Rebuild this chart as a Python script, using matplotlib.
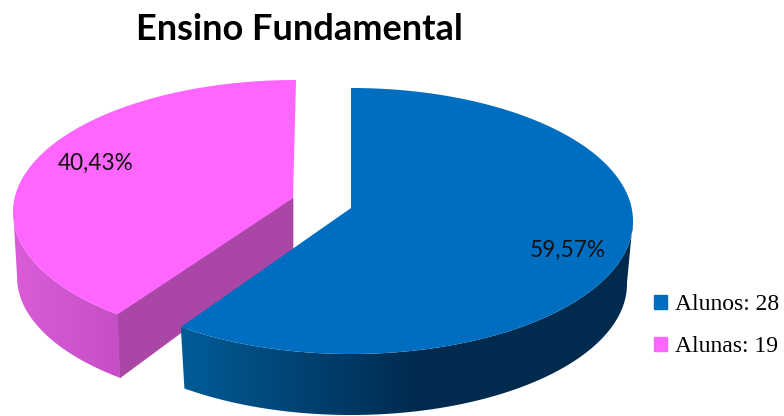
import numpy as np
import matplotlib
matplotlib.use('Agg')
import matplotlib.pyplot as plt
from matplotlib.patches import Patch,Polygon

# data
labels=['Alunos','Alunas']
counts=[28,19]
title='Ensino Fundamental'

# colours
top_colors=['#006EC0','#FF66FF']
cut_color='#AA46A6'
wall_from=[np.array([0,92,152])/255,np.array([218,92,218])/255]
wall_to=[np.array([0,42,78])/255,np.array([198,78,198])/255]
wall_span=[(181,420),(13,119)]

# geometry of each slice in picture pixels (the pie is faked 3D)
top_ell=[(351,221,282,133),(296,212,283,132)]
bot_ell=[(351,284,276,131),(296,277,279,130)]
apex=[(351,208),(293,198)]
apex_low=(293,250)
skew=[2.85,5.0]

fig=plt.figure(figsize=(7.84,4.16),dpi=100)
ax=fig.add_axes([0,0,1,1])
ax.axis('off')

shares=np.array(counts)/sum(counts)
edges=np.concatenate(([0],np.cumsum(shares)*360))

def warp(t,k):
    return t+k*np.sin(np.radians(2*t))

def pt(ell,phi):
    cx,cy,a,b=ell
    r=np.radians(phi)
    return cx+a*np.sin(r),cy-b*np.cos(r)

# pink first so the blue slice sits on top of its cut face
for i in [1,0]:
    z=1 if i==1 else 4
    th=warp(np.linspace(edges[i],edges[i+1],241),skew[i])
    x,y=pt(top_ell[i],th)
    xb,yb=pt(bot_ell[i],th)
    if i==1:
        ax.fill([apex[i][0],x[0],xb[0],apex_low[0]],[apex[i][1],y[0],yb[0],apex_low[1]],color=cut_color,lw=0.5,zorder=z)
    # outer wall, only the front half can be seen, gradient clipped to its outline
    front=np.cos(np.radians(th))<=0.02
    wall=Polygon(np.c_[np.r_[x[front],xb[front][::-1]],np.r_[y[front],yb[front][::-1]]],transform=ax.transData,fc='none',lw=0)
    ax.add_patch(wall)
    f=np.clip((np.arange(784)+0.5-wall_span[i][0])/(wall_span[i][1]-wall_span[i][0]),0,1)[None,:,None]
    grad=wall_from[i][None,None,:]*(1-f)+wall_to[i][None,None,:]*f
    im=ax.imshow(grad,extent=(0,784,416,0),aspect='auto',zorder=z,interpolation='bilinear')
    im.set_clip_path(wall)
    ax.fill(np.r_[apex[i][0],x],np.r_[apex[i][1],y],color=top_colors[i],lw=0,zorder=z+1)

ax.set_xlim(0,784)
ax.set_ylim(416,0)

# labels
for i,(lx,ly) in enumerate([(568,250),(96,163)]):
    ax.text(lx,ly,f'{shares[i]*100:.2f}%'.replace('.',','),family='Lato',fontsize=16.3,color='#111111',ha='center',va='center',zorder=6)

ax.text(299.5,29.5,title,family='Lato',weight='bold',fontsize=26,color='black',ha='center',va='center')

handles=[Patch(color=c) for c in top_colors]
ax.legend(handles,[f'{n}: {v}' for n,v in zip(labels,counts)],loc='upper left',bbox_to_anchor=(654/784,1-294/416),
          frameon=False,prop={'family':'Liberation Serif','size':17},handlelength=0.55,handleheight=0.55,
          handletextpad=0.34,labelspacing=0.9,borderpad=0,borderaxespad=0)

plt.savefig('out.png',dpi=100)
